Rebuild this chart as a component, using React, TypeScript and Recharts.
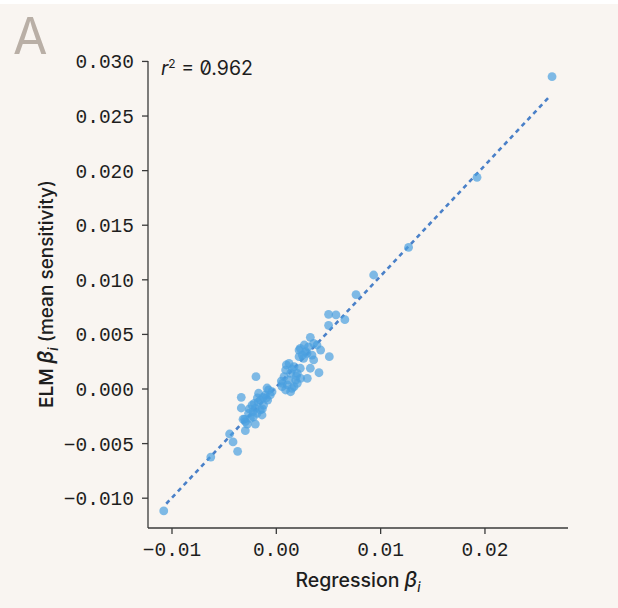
import React from "react";
import { ScatterChart, Scatter, XAxis, YAxis, ReferenceLine } from "recharts";

// Regression beta (x) vs ELM mean sensitivity beta (y)
const regressionBeta: number[] = [
  -0.01079, -0.00628, -0.00448, -0.00415, -0.00371, -0.00297, -0.00304, -0.00336, -0.00336, -0.00195,
  -0.00201, -0.00137,
  -0.00233, -0.00201, -0.00153, -0.00105, -0.00074, -0.0017, -0.00223, -0.00266, -0.00185, -0.00122,
  -0.00083, -0.00249, -0.00153, -0.00058, -0.00128, -0.00211, -0.00297, -0.00278, -0.00319, -0.00041,
  -0.00089, -0.00173, -0.00134, -0.0022, -0.00096, -0.00182, -0.00259,
  0.00122, 0.0017, 0.00089, 0.00137, 0.00201, 0.00074, 0.00122, 0.00185, 0.00233, 0.00058,
  0.00105, 0.0017, 0.00137, 0.00089, 0.00297, 0.00201, 0.00326, 0.00409, 0.00358, 0.0023,
  0.00055, 0.00151, 0.00048, 0.00192, 0.00153, 0.00096,
  0.00326, 0.00358, 0.00425, 0.00218, 0.00249, 0.00281, 0.00218, 0.00294, 0.0023, 0.00508,
  0.0039, 0.00342, 0.00262, 0.00307, 0.00268,
  0.00501, 0.00572, 0.00501, 0.00657, 0.00764, 0.00933, 0.01268, 0.01924, 0.02643,
];
const elmBeta: number[] = [
  -0.01117, -0.00623, -0.00412, -0.00485, -0.00571, -0.00382, -0.00277, -0.00076, -0.00174, 0.00113,
  -0.00321, -0.00238,
  -0.00147, -0.00177, -0.00101, -0.00055, -0.00009, -0.00039, -0.00208, -0.00223, -0.00223, -0.00147,
  -0.00101, -0.00268, -0.00192, -0.00055, -0.00076, -0.00131, -0.00299, -0.00321, -0.00277, -0.00025,
  0.00009, -0.00119, -0.00183, -0.00256, -0.00082, -0.00082, -0.00183,
  0.00235, 0.00204, 0.00174, 0.00144, 0.00144, 0.00113, 0.00082, 0.00082, 0.00098, 0.00052,
  0.00037, 0.00021, -0.00025, -0.00009, 0.00098, 0.00052, 0.0019, 0.00149, 0.00266, 0.0019,
  0.00021, 0.00006, 0.00073, 0.00119, 0.00183, 0.0022,
  0.00473, 0.00418, 0.00357, 0.00357, 0.00311, 0.00342, 0.00296, 0.00327, 0.00373, 0.00296,
  0.00403, 0.00311, 0.00281, 0.00385, 0.00403,
  0.00684, 0.00678, 0.00583, 0.00635, 0.00865, 0.01044, 0.01298, 0.01939, 0.0286,
];

const xTicks: number[] = [-0.01, 0.0, 0.01, 0.02];
const yTicks: number[] = [-0.01, -0.005, 0.0, 0.005, 0.01, 0.015, 0.02, 0.025, 0.03];
const fitLine: { x: number; y: number }[] = [
  { x: -0.01055, y: -0.01051 },
  { x: 0.0262, y: 0.02679 },
];
const rSquared = "0.962";

const points = regressionBeta.map((x, i) => ({ x, y: elmBeta[i] }));

const fmt = (v: number, d: number) => {
  const s = Math.abs(v).toFixed(d);
  return v < 0 ? "\u2212" + s : s;
};

const BG = "#f9f5f1";
const AXIS = "#3a3a3a";
const TEXT = "#1e1e1e";
const MONO = "'Liberation Mono', monospace";
const SANS = "Inter, 'Noto Sans', sans-serif";

const Dot = (props: any) => {
  const { cx, cy } = props;
  if (cx == null || cy == null) return null;
  return <circle cx={cx} cy={cy} r={4.4} fill="#4a9fdf" fillOpacity={0.7} />;
};

export default function App() {
  return (
    <div style={{ position: "absolute", left: 0, top: 0, width: 618, height: 608, background: "#ffffff", overflow: "hidden" }}>
      <div style={{ position: "absolute", left: 0, top: 4, width: 618, height: 604, background: BG }} />
      <div style={{ position: "absolute", left: 0, top: 0 }}>
        <ScatterChart width={618} height={608} margin={{ top: 61, right: 50, left: 0, bottom: 0 }}>
          <XAxis
            type="number"
            dataKey="x"
            domain={[-0.0123, 0.02796]}
            ticks={xTicks}
            tickFormatter={(v: number) => fmt(v, 2)}
            height={80}
            allowDataOverflow
            stroke={AXIS}
            strokeWidth={1.3}
            tickSize={6}
            tickMargin={8}
            tick={{ fontFamily: MONO, fontSize: 19.5, fill: TEXT }}
          />
          <YAxis
            type="number"
            dataKey="y"
            domain={[-0.01273, 0.03004]}
            ticks={yTicks}
            tickFormatter={(v: number) => fmt(v, 3)}
            width={148}
            allowDataOverflow
            stroke={AXIS}
            strokeWidth={1.3}
            tickSize={6}
            tickMargin={8}
            tick={{ fontFamily: MONO, fontSize: 19.5, fill: TEXT }}
          />
          <ReferenceLine
            segment={fitLine}
            stroke="#4a80c8"
            strokeWidth={2.6}
            strokeDasharray="4.5 4"
            ifOverflow="visible"
          />
          <Scatter data={points} shape={Dot} isAnimationActive={false} />
        </ScatterChart>
      </div>
      <svg width={618} height={608} style={{ position: "absolute", left: 0, top: 0, pointerEvents: "none" }}>
        <text x={13} y={54} fontFamily={SANS} fontSize={50} fill="#b9afa6" fontWeight={400}>A</text>
        <text x={161} y={75} fontFamily={SANS} fontSize={19.5} fill={TEXT} style={{ fontFeatureSettings: "'zero'" }}>
          <tspan fontStyle="italic">r</tspan>
          <tspan fontSize={12} dy={-7}>2</tspan>
          <tspan dy={7}> = {rSquared}</tspan>
        </text>
        <text x={358} y={587} textAnchor="middle" fontFamily={SANS} fontSize={19.5} fontWeight={500} fill={TEXT}>
          Regression <tspan fontStyle="italic" fontSize={21}>β</tspan>
          <tspan fontStyle="italic" fontSize={13} dy={5}>i</tspan>
        </text>
        <text
          x={0}
          y={0}
          transform="translate(53 294) rotate(-90)"
          textAnchor="middle"
          fontFamily={SANS}
          fontSize={19}
          fontWeight={600}
          fill={TEXT}
        >
          ELM <tspan fontStyle="italic" fontSize={21}>β</tspan>
          <tspan fontStyle="italic" fontSize={13} dy={5}>i</tspan>
          <tspan dy={-5} fontWeight={500}> (mean sensitivity)</tspan>
        </text>
      </svg>
    </div>
  );
}
